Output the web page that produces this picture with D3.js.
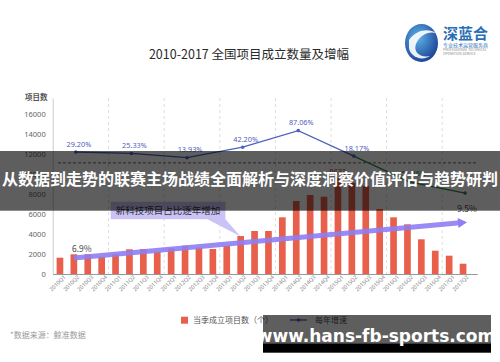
<!DOCTYPE html>
<html>
<head>
<meta charset="utf-8">
<script src="https://cdn.jsdelivr.net/npm/d3@7"></script>
<style>
  body { margin: 0; background: #fff; }
  svg { display: block; font-family: "Noto Sans CJK SC", "Noto Sans", sans-serif; }
</style>
</head>
<body>
<div id="chart"></div>
<script>
// quarters on the x axis
var quarters = ['2010Q1','2010Q2','2010Q3','2010Q4','2011Q1','2011Q2','2011Q3','2011Q4',
  '2012Q1','2012Q2','2012Q3','2012Q4','2013Q1','2013Q2','2013Q3','2013Q4',
  '2014Q1','2014Q2','2014Q3','2014Q4','2015Q1','2015Q2','2015Q3','2015Q4',
  '2016Q1','2016Q2','2016Q3','2016Q4','2017Q1','2017Q2'];

// projects founded per quarter
var projectCounts = [1630, 1970, 1970, 1730, 2000, 2470, 2500, 2230,
  2570, 2830, 2630, 2500, 2830, 3800, 4300, 4300,
  5670, 7300, 7900, 7730, 9633, 9100, 8800, 6500,
  5670, 4970, 3470, 2330, 1830, 1030];

// yearly growth (%)
var years = ['2010','2011','2012','2013','2014','2015','2016','2017'];
var growthRates = [29.20, 25.33, 13.93, 42.20, 87.06, 18.17, -51.36, -81.6];
var growthLabels = ['29.20%','25.33%','13.93%','42.20%','87.06%','18.17%','-51.36%',''];

var yTicks = [0, 2000, 4000, 6000, 8000, 10000, 12000, 14000, 16000];

// share of new-tech projects, start and end of the trend arrow
var trendQuarters = ['2010Q2', '2017Q2'];
var trendLevels = [1600, 5150];
var trendLabels = ['6.9%', '9.5%'];
var peakLabel = '9633';

var width = 500, height = 362;
var blue = '#5060c0', green = '#2f8a4e', red = '#e8604c', purple = '#8f7ff2';

var svg = d3.select('#chart').append('svg')
  .attr('width', width)
  .attr('height', height);

//band scale for the quarters, 30 bars between 53 and 470
var x = d3.scaleBand()
  .domain(quarters)
  .range([53, 470])
  .paddingInner(0.52)
  .paddingOuter(0.26);

var yL = d3.scaleLinear().domain([0, 17600]).range([274, 98]);
//right hand scale for the growth line (hidden axis)
var yR = d3.scaleLinear().domain([-300, 175]).range([274, 98]);

function cx(q) { return x(q) + x.bandwidth() / 2; }
function yearX(y) { return cx(y + 'Q2') + 2; }

// title
svg.append('text')
  .attr('x', 249).attr('y', 58.5)
  .attr('text-anchor', 'middle')
  .style('font-size', '12.5px')
  .style('fill', '#2a2a2a')
  .text('2010-2017 全国项目成立数量及增幅');

// logo
var defs = svg.append('defs');
var grad = defs.append('radialGradient').attr('id', 'lg').attr('cx', '40%').attr('cy', '35%').attr('r', '70%');
grad.append('stop').attr('offset', '0%').attr('stop-color', '#5eb3ea');
grad.append('stop').attr('offset', '100%').attr('stop-color', '#1a3f92');
svg.append('ellipse')
  .attr('cx', 421.5).attr('cy', 43).attr('rx', 16.5).attr('ry', 19)
  .style('fill', 'url(#lg)');
svg.append('path')
  .attr('d', 'M409,40 C416,30 428,28 436,33 C428,31 420,35 416,44 C413,52 420,58 430,56 C421,62 410,56 409,48 Z')
  .style('fill', '#fff').style('opacity', 0.9);
svg.append('text').attr('x', 443).attr('y', 39)
  .style('font-size', '15px').style('font-weight', 'bold').style('fill', '#2a6fb6')
  .text('深蓝合');
svg.append('text').attr('x', 443).attr('y', 46.5)
  .style('font-size', '5px').style('fill', '#2a6fb6').text('专业技术运营服务商');
svg.append('text').attr('x', 443).attr('y', 50.5)
  .style('font-size', '3.4px').style('fill', '#888').text('PROFESSIONAL TECHNICAL');
svg.append('text').attr('x', 443).attr('y', 54.5)
  .style('font-size', '3.4px').style('fill', '#888').text('OPERATION SERVICE');

// vertical dashed lines between years
svg.append('g').selectAll('line')
  .data(years.slice(1))
  .enter().append('line')
  .attr('x1', function(d) { return x(d + 'Q1') - (x.step() - x.bandwidth()) / 2; })
  .attr('x2', function(d) { return x(d + 'Q1') - (x.step() - x.bandwidth()) / 2; })
  .attr('y1', yL.range()[1]).attr('y2', yL(0))
  .style('stroke', '#ddd')
  .style('stroke-dasharray', '3,3');

// left axis
var yAxis = svg.append('g')
  .attr('transform', 'translate(52.7,0)')
  .call(d3.axisLeft(yL).tickValues(yTicks).tickSize(0).tickPadding(7).tickFormat(d3.format('d')));
yAxis.select('.domain').style('stroke', '#ccc');
yAxis.selectAll('text').style('font-size', '7.5px').style('fill', '#666')
  .style('font-family', '"Noto Sans", sans-serif');

svg.append('text')
  .attr('x', 25).attr('y', 99.5)
  .style('font-size', '7.5px').style('fill', '#555').style('font-weight', 'bold')
  .text('项目数');

// bars
svg.append('g').selectAll('rect')
  .data(projectCounts)
  .enter().append('rect')
  .attr('x', function(d, i) { return x(quarters[i]); })
  .attr('y', function(d) { return yL(d); })
  .attr('width', x.bandwidth())
  .attr('height', function(d) { return yL(0) - yL(d); })
  .style('fill', red);

// label on the highest bar
var peakIdx = projectCounts.indexOf(d3.max(projectCounts));
svg.append('text')
  .attr('x', cx(quarters[peakIdx])).attr('y', yL(projectCounts[peakIdx]) - 3)
  .attr('text-anchor', 'middle')
  .style('font-size', '7.5px').style('fill', '#c0392b')
  .text(peakLabel);

// x axis
var xAxis = svg.append('g')
  .attr('transform', 'translate(0,' + yL(0) + ')')
  .call(d3.axisBottom(x).tickSize(0).tickPadding(4));
xAxis.select('.domain').attr('d', 'M53,0.5H477.7').style('stroke', '#999');
xAxis.selectAll('text')
  .attr('transform', 'rotate(-45)')
  .attr('text-anchor', 'end')
  .attr('dx', '0.3em').attr('dy', '0.5em')
  .style('font-size', '5.5px').style('fill', '#888')
  .style('font-family', '"Noto Sans", sans-serif');

// zero line of the growth rate
svg.append('line')
  .attr('x1', 58).attr('x2', 477)
  .attr('y1', yR(0)).attr('y2', yR(0))
  .style('stroke', '#666')
  .style('stroke-dasharray', '3,2');

// trend arrow
var tx1 = cx(trendQuarters[0]), ty1 = yL(trendLevels[0]);
var tx2 = cx(trendQuarters[1]), ty2 = yL(trendLevels[1]);
var ang = Math.atan2(ty2 - ty1, tx2 - tx1);
var tipX = tx2 + 4 * Math.cos(ang), tipY = ty2 + 4 * Math.sin(ang);
function pt(along, side) {
  return [tipX - along * Math.cos(ang) - side * Math.sin(ang),
          tipY - along * Math.sin(ang) + side * Math.cos(ang)];
}
svg.append('line')
  .attr('x1', tx1).attr('y1', ty1)
  .attr('x2', pt(7, 0)[0]).attr('y2', pt(7, 0)[1])
  .style('stroke', purple).style('stroke-width', 5).style('opacity', 0.9);
svg.append('polygon')
  .attr('points', [pt(0, 0), pt(9, -5), pt(9, 5)].map(function(p) { return p.join(','); }).join(' '))
  .style('fill', purple);

svg.append('text')
  .attr('x', tx1 + 8).attr('y', ty1 - 6)
  .attr('text-anchor', 'middle')
  .style('font-size', '8.5px').style('fill', '#444')
  .text(trendLabels[0]);
svg.append('text')
  .attr('x', tipX).attr('y', tipY - 10)
  .attr('text-anchor', 'middle')
  .style('font-size', '8.5px').style('fill', '#444')
  .text(trendLabels[1]);

// callout box
var bx1 = x('2011Q1') - 1.5, bx2 = x('2013Q1') + 2;
var by1 = yL(7230), by2 = yL(5470);
svg.append('path')
  .attr('d', 'M' + bx1 + ',' + by1 + 'H' + bx2 + 'V' + by2 +
    'L' + cx('2013Q2') + ',' + yL(3750) + 'L' + (bx2 - 18) + ',' + by2 + 'H' + bx1 + 'Z')
  .style('fill', '#cbc3f6');
svg.append('text')
  .attr('x', (bx1 + bx2) / 2).attr('y', (by1 + by2) / 2 + 3.5)
  .attr('text-anchor', 'middle')
  .style('font-size', '9.5px').style('fill', '#333')
  .text('新科技项目占比逐年增加');

// growth line, blue while rising, green when it falls below zero
var line = d3.line()
  .x(function(d) { return yearX(d.year); })
  .y(function(d) { return yR(d.v); });
var pts = years.map(function(y, i) { return { year: y, v: growthRates[i], label: growthLabels[i] }; });

svg.append('path').datum(pts.slice(0, 6))
  .attr('d', line).style('fill', 'none').style('stroke', blue).style('stroke-width', 1.3);
svg.append('path').datum(pts.slice(5))
  .attr('d', line).style('fill', 'none').style('stroke', green).style('stroke-width', 1.3);

svg.append('g').selectAll('circle')
  .data(pts)
  .enter().append('circle')
  .attr('cx', function(d) { return yearX(d.year); })
  .attr('cy', function(d) { return yR(d.v); })
  .attr('r', 1.8)
  .style('fill', function(d, i) { return i > 5 ? green : blue; });

svg.append('g').selectAll('text')
  .data(pts)
  .enter().append('text')
  .attr('x', function(d) { return yearX(d.year) + 3; })
  .attr('y', function(d) { return yR(d.v) - 5.5; })
  .attr('text-anchor', 'middle')
  .style('font-size', '7.3px')
  .style('font-family', '"Noto Sans", sans-serif')
  .style('fill', function(d, i) { return i > 5 ? green : blue; })
  .text(function(d) { return d.label; });

// legend
svg.append('rect').attr('x', 181).attr('y', 316.7).attr('width', 7).attr('height', 7).style('fill', red);
svg.append('text').attr('x', 193).attr('y', 323.3)
  .style('font-size', '8px').style('fill', '#555').text('当季成立项目数（个）');
svg.append('line').attr('x1', 290).attr('x2', 307).attr('y1', 320).attr('y2', 320)
  .style('stroke', blue).style('stroke-width', 1.3);
svg.append('circle').attr('cx', 298.5).attr('cy', 320).attr('r', 1.8).style('fill', blue);
svg.append('text').attr('x', 315).attr('y', 323.3)
  .style('font-size', '8px').style('fill', '#555').text('每年增速');

svg.append('text').attr('x', 10).attr('y', 337.5)
  .style('font-size', '8px').style('fill', '#999').text('*数据来源：鲸准数据');

// overlay banner across the chart
svg.append('rect').attr('x', 0).attr('y', 151).attr('width', width).attr('height', 59.7)
  .style('fill', 'rgba(0,0,0,0.63)');
svg.append('text').attr('x', 250).attr('y', 185)
  .attr('text-anchor', 'middle')
  .style('font-size', '16px').style('font-weight', 'bold').style('fill', '#fff')
  .text('从数据到走势的联赛主场战绩全面解析与深度洞察价值评估与趋势研判');

// site watermark
svg.append('rect').attr('x', 263).attr('y', 315).attr('width', 228).attr('height', 28.3)
  .style('fill', 'rgba(0,0,0,0.63)');
svg.append('rect').attr('x', 263).attr('y', 343.3).attr('width', 228).attr('height', 9.4)
  .style('fill', '#000');
svg.append('text').attr('x', 376).attr('y', 342)
  .attr('text-anchor', 'middle')
  .style('font-size', '17px').style('font-weight', 'bold').style('fill', '#fff')
  .style('font-family', '"DejaVu Sans", sans-serif')
  .text('www.hans-fb-sports.com');
</script>
</body>
</html>
